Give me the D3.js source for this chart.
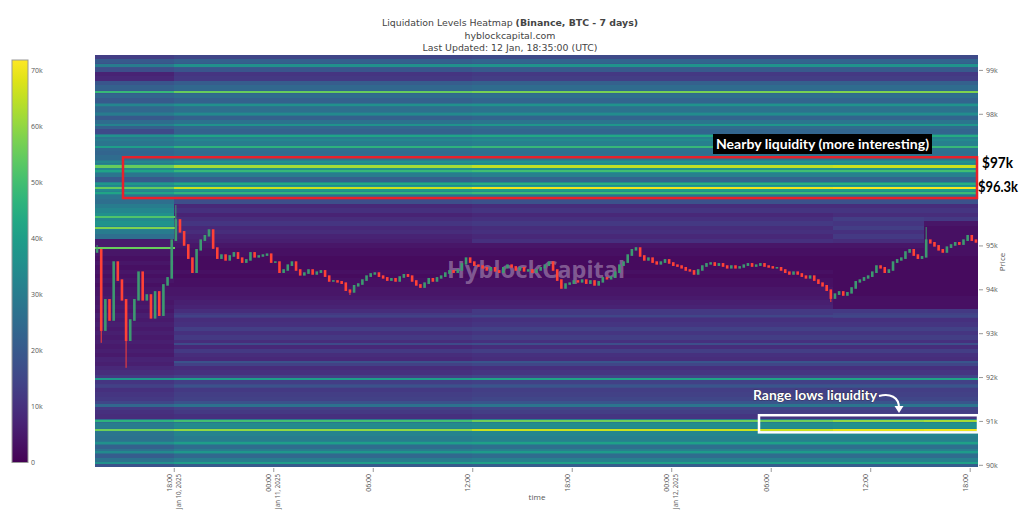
<!DOCTYPE html>
<html><head><meta charset="utf-8">
<script src="https://cdn.jsdelivr.net/npm/d3@7"></script>
<style>body{margin:0;background:#fff}svg{display:block}</style>
</head><body><svg id="c" width="1024" height="511"></svg>
<script>
// ---------- DATA ----------
const segStarts = ["2025-01-10T13:15:00Z","2025-01-10T18:00:00Z","2025-01-11T12:00:00Z","2025-01-12T09:45:00Z","2025-01-12T15:15:00Z"];
const segEnd = "2025-01-12T18:30:00Z";
// price bins ($100 each), listed top -> bottom
const priceBins = d3.range(99300, 89999, -100);
// liquidity per bin (thousands) in each time segment
const liqS0 = [13,20,18,17,7,8,19,22,21,23, 20,26,24,27,20,25,22,16,28,28, 28,24,23,25,29,34,34,28,20,32, 34,32,28,26,30,33,36,34,37,32, 30,26,5,5,4,4,3,4,3,4, 3,4,3,4,4,5,4,5,4,6, 5,6,5,6,5,6,5,6,5,7, 6,8,9,12,11,13,10,11,12,15, 12,10,9,26,30,29,28,27,29,22, 27,21,27,18];
const liqS1 = [15,22,20,19,11,12,21,24,23,25, 22,28,26,29,22,27,24,22,30,30, 30,26,25,27,31,36,36,30,22,34, 38,34,26,17,8,10,7,9,11,8, 9,7,6,4,3,3,2,2,2,3, 2,3,3,4,4,5,6,7,9,12, 9,10,13,10,12,9,8,12,9,8, 14,9,10,14,13,16,12,13,14,18, 14,12,10,28,34,32,32,30,32,25, 30,24,30,20];
const liqS2 = [16,23,21,20,12,13,22,25,24,26, 23,29,27,30,23,28,25,23,31,31, 31,27,26,28,32,37,37,31,23,35, 39,35,27,18,9,11,8,10,12,9, 10,8,10,4,3,3,2,2,2,3, 2,3,3,4,4,5,6,7,12,12, 10,11,14,11,13,10,9,13,10,9, 15,10,11,15,14,17,13,14,15,19, 15,13,11,30,35,33,33,31,33,26, 31,25,31,21];
const liqS3 = [16,23,21,20,12,13,22,25,24,26, 23,29,27,30,23,28,25,23,31,31, 31,27,26,28,32,37,37,31,23,35, 39,35,27,18,9,11,9,13,11,13, 10,12,9,4,3,3,2,2,2,2, 2,2,2,2,2,3,3,3,12,14, 10,11,14,11,13,10,9,13,10,9, 15,10,11,15,14,17,13,14,15,19, 15,13,11,31,36,34,33,31,33,26, 31,25,31,21];
const liqS4 = [16,23,21,20,12,13,22,25,24,26, 23,29,27,30,23,28,25,23,31,31, 31,27,26,28,32,37,37,31,23,35, 39,35,27,18,9,11,9,12,4,3, 3,3,3,3,3,3,2,2,2,2, 2,2,2,2,2,3,3,3,12,14, 10,11,14,11,13,10,9,13,10,9, 15,10,11,15,14,17,13,14,15,19, 15,13,11,31,36,34,33,31,33,26, 31,25,31,21];
// thin liquidity lines ($50 tall)
const linePrices = [99100,98500,98200,98000,97750,97500,97400,97250,96900,96800,96700,96400,96300,96200,95650,95400,94950,92350,91950,91800,91350,91000,90800,90500,90300,90050,92750,93400];
const lineS0 = [30,48,33,30,32,36,30,40,33,55,42,38,55,42,52,58,55,null,38,14,24,46,56,36,34,36,null,null];
const lineS1 = [36,55,36,34,37,42,33,46,36,62,48,43,66,47,null,null,null,18,40,18,27,50,60,40,38,40,16,14];
const lineS2 = [37,57,37,35,38,43,34,48,37,65,50,45,70,49,null,null,null,19,42,19,28,56,66,41,39,41,17,15];
const lineS3 = [37,58,37,35,38,44,34,48,37,66,50,45,71,49,null,null,null,19,42,19,28,60,69,41,39,41,17,15];
const lineS4 = [37,58,37,35,38,44,34,48,37,66,50,45,71,49,null,null,null,19,42,19,28,62,70,41,39,41,17,15];
// 15-minute candles
const candleStart = "2025-01-10T13:15:00Z";
const firstOpen = 94850;
const closes = [
94900,93070,93760,93300,94620,94210,93760,92840,93300,93760,
94390,93760,93870,93350,93940,93410,94100,94260,95120,95580,
95310,95010,94710,94390,94900,95120,95220,95350,94940,94710,
94780,94670,94760,94830,94710,94620,94670,94830,94740,94760,
94780,94800,94620,94620,94390,94440,94550,94620,94440,94330,
94370,94440,94350,94390,94420,94300,94190,94190,94170,94140,
93980,93940,94080,94120,94210,94300,94350,94370,94300,94260,
94210,94240,94190,94280,94330,94300,94190,94100,94050,94140,
94240,94190,94260,94300,94370,94420,94390,94440,94580,94710,
94620,94550,94530,94490,94440,94490,94420,94390,94490,94550,
94510,94440,94490,94420,94440,94390,94440,94490,94550,94620,
94440,94210,94030,94120,94140,94190,94170,94210,94140,94190,
94100,94170,94260,94240,94280,94390,94550,94620,94780,94900,
94940,94760,94670,94710,94620,94580,94620,94670,94600,94550,
94530,94490,94440,94420,94350,94440,94530,94580,94600,94550,
94580,94530,94490,94530,94490,94510,94550,94580,94530,94550,
94580,94530,94510,94490,94490,94440,94390,94350,94390,94350,
94300,94260,94300,94210,94140,94080,93980,93800,93890,93940,
93870,93920,94030,94170,94210,94260,94300,94390,94530,94490,
94390,94440,94620,94670,94710,94850,94900,94780,94710,94740,
95120,95060,94990,94900,94850,94960,95010,95060,95030,95120,
95220,95120,95080];
const wickIdx = [0,1,7,19,61,130,177,200];
const wickPrice = [95010,92780,92210,95920,93870,94960,93710,95420];
// axes
const priceTicks = [90000,91000,92000,93000,94000,95000,98000,99000];
const timeTicks = ["2025-01-10T18:00:00Z","2025-01-11T00:00:00Z","2025-01-11T06:00:00Z","2025-01-11T12:00:00Z","2025-01-11T18:00:00Z","2025-01-12T00:00:00Z","2025-01-12T06:00:00Z","2025-01-12T12:00:00Z","2025-01-12T18:00:00Z"];
const timeLabels = ["18:00","00:00","06:00","12:00","18:00","00:00","06:00","12:00","18:00"];
const dateLabels = ["Jan 10, 2025","Jan 11, 2025","","","","Jan 12, 2025","","",""];
const cbTicks = [0,10,20,30,40,50,60,70];
const zMax = 71.8;

// ---------- CHART ----------
const svg = d3.select("#c");
const FONT = "'Open Sans', sans-serif";
const L = 95, R = 978, T = 55, B = 467;
const x = d3.scaleUtc().domain([new Date(segStarts[0]), new Date(segEnd)]).range([L, R]);
const y = d3.scaleLinear().domain([89950, 99340]).range([B, T]);
const color = d3.scaleSequential(d3.interpolateViridis).domain([0, zMax]);

const defs = svg.append("defs");
defs.append("clipPath").attr("id","plot").append("rect")
  .attr("x", L).attr("y", T).attr("width", R - L).attr("height", B - T);
const plot = svg.append("g").attr("clip-path","url(#plot)");

const bounds = segStarts.map(s => new Date(s)).concat([new Date(segEnd)]);
const segVals = [liqS0, liqS1, liqS2, liqS3, liqS4];
const segLines = [lineS0, lineS1, lineS2, lineS3, lineS4];
segVals.forEach((vals, si) => {
  const x0 = Math.round(x(bounds[si])), x1 = Math.round(x(bounds[si + 1]));
  plot.append("g").attr("shape-rendering","crispEdges").selectAll("rect").data(priceBins).join("rect")
    .attr("x", x0).attr("width", x1 - x0 + 1)
    .attr("y", p => y(p + 50)).attr("height", p => y(p - 50) - y(p + 50) + 0.6)
    .attr("fill", (p, i) => color(vals[i]));
});
segLines.forEach((vals, si) => {
  const x0 = Math.round(x(bounds[si])), x1 = Math.round(x(bounds[si + 1]));
  const d = linePrices.map((p, i) => ({p, v: vals[i]})).filter(o => o.v != null);
  plot.append("g").attr("shape-rendering","crispEdges").selectAll("rect").data(d).join("rect")
    .attr("x", x0).attr("width", x1 - x0 + 1)
    .attr("y", o => y(o.p + 25)).attr("height", o => y(o.p - 25) - y(o.p + 25))
    .attr("fill", o => color(o.v));
});

// watermark
plot.append("text").attr("x", 536).attr("y", 278).attr("text-anchor","middle")
  .attr("font-family","'Noto Sans', sans-serif").attr("font-weight",700).attr("font-size",24)
  .attr("textLength",178).attr("lengthAdjust","spacingAndGlyphs")
  .attr("fill","#ffffff").attr("fill-opacity",0.33).text("HyblockCapital");

// candles
const t0 = new Date(candleStart).getTime();
const step = 15 * 60 * 1000;
const candles = closes.map((c, i) => {
  const o = i ? closes[i - 1] : firstOpen;
  const wi = wickIdx.indexOf(i);
  return {t: new Date(t0 + i * step + step / 2), o, c,
          hi: wi >= 0 && wickPrice[wi] > Math.max(o, c) ? wickPrice[wi] : Math.max(o, c),
          lo: wi >= 0 && wickPrice[wi] < Math.min(o, c) ? wickPrice[wi] : Math.min(o, c)};
});
const cg = plot.append("g");
cg.selectAll("line").data(candles).join("line")
  .attr("x1", d => x(d.t)).attr("x2", d => x(d.t))
  .attr("y1", d => y(d.hi)).attr("y2", d => y(d.lo))
  .attr("stroke", d => d.c >= d.o ? "#3D9970" : "#FF4136").attr("stroke-width", 1);
cg.selectAll("rect").data(candles).join("rect")
  .attr("x", d => x(d.t) - 1.3).attr("width", 2.6)
  .attr("y", d => y(Math.max(d.o, d.c)) - 0.8)
  .attr("height", d => Math.abs(y(d.o) - y(d.c)) + 1.6)
  .attr("fill", d => d.c >= d.o ? "#3D9970" : "#FF4136");

// right axis
const ya = svg.append("g").attr("transform", `translate(${R + 1},0)`)
  .call(d3.axisRight(y).tickValues(priceTicks).tickSize(4).tickPadding(3).tickFormat(d => d / 1000 + "k"));
ya.select(".domain").remove();
ya.selectAll("line").attr("stroke","#999");
ya.selectAll("text").attr("font-family", FONT).attr("font-size", 7).attr("fill","#555");
svg.append("text").attr("transform","translate(1005,262) rotate(-90)").attr("text-anchor","middle")
  .attr("font-family", FONT).attr("font-size", 8).attr("fill","#555").text("Price");

// bottom axis
const xa = svg.append("g").attr("transform", `translate(0,${B + 1})`)
  .call(d3.axisBottom(x).tickValues(timeTicks.map(d => new Date(d))).tickSize(4).tickFormat(""));
xa.select(".domain").remove();
xa.selectAll("line").attr("stroke","#999");
const tl = svg.append("g").selectAll("g").data(timeTicks).join("g")
  .attr("transform", d => `translate(${x(new Date(d))},474) rotate(-90)`);
tl.append("text").attr("x",0).attr("y",-1.8).attr("text-anchor","end")
  .attr("font-family", FONT).attr("font-size", 7).attr("fill","#555").text((d, i) => timeLabels[i]);
tl.append("text").attr("x",0).attr("y",6.8).attr("text-anchor","end")
  .attr("font-family", FONT).attr("font-size", 6.2).attr("fill","#555").text((d, i) => dateLabels[i]);
svg.append("text").attr("x", 537).attr("y", 500).attr("text-anchor","middle")
  .attr("font-family", FONT).attr("font-size", 8).attr("fill","#555").text("time");

// colorbar
const cbTop = 60, cbBot = 462.5;
const cy = d3.scaleLinear().domain([0, zMax]).range([cbBot, cbTop]);
const grad = defs.append("linearGradient").attr("id","vir")
  .attr("x1",0).attr("y1",1).attr("x2",0).attr("y2",0);
grad.selectAll("stop").data(d3.range(0, 1.0001, 0.05)).join("stop")
  .attr("offset", d => d).attr("stop-color", d => d3.interpolateViridis(d));
svg.append("rect").attr("x",12).attr("y",cbTop).attr("width",16).attr("height",cbBot - cbTop)
  .attr("fill","url(#vir)").attr("stroke","#999").attr("stroke-width",1);
svg.append("g").selectAll("text").data(cbTicks).join("text")
  .attr("x",31).attr("y", d => cy(d) + 2.5)
  .attr("font-family", FONT).attr("font-size", 7).attr("fill","#555")
  .text(d => d === 0 ? "0" : d + "k");

// title
const title = svg.append("text").attr("text-anchor","middle").attr("font-family","'DejaVu Sans', sans-serif")
  .attr("font-size", 9.4).attr("fill","#444");
title.append("tspan").attr("x",510).attr("y",26).text("Liquidation Levels Heatmap ")
  .append("tspan").attr("font-weight","bold").text("(Binance, BTC - 7 days)");
title.append("tspan").attr("x",510).attr("y",39).text("hyblockcapital.com");
title.append("tspan").attr("x",510).attr("y",51).text("Last Updated: 12 Jan, 18:35:00 (UTC)");

// annotations
svg.append("rect").attr("x", 123).attr("y", y(97010)).attr("width", R - 1 - 123).attr("height", y(96080) - y(97010))
  .attr("fill","none").attr("stroke","#e8212b").attr("stroke-width",2.5);
svg.append("rect").attr("x",713).attr("y",134).attr("width",219).attr("height",20).attr("fill","#000");
svg.append("text").attr("x",716).attr("y",149).attr("font-family","Lato, sans-serif").attr("font-weight",700)
  .attr("font-size",13.5).attr("fill","#fff").attr("textLength",213).attr("lengthAdjust","spacingAndGlyphs")
  .text("Nearby liquidity (more interesting)");
svg.append("text").attr("x",982).attr("y",168).attr("font-family","Lato, sans-serif").attr("font-weight",700)
  .attr("font-size",15).attr("fill","#000").attr("textLength",31).attr("lengthAdjust","spacingAndGlyphs").text("$97k");
svg.append("text").attr("x",978).attr("y",192).attr("font-family","Lato, sans-serif").attr("font-weight",700)
  .attr("font-size",14.5).attr("fill","#000").attr("textLength",40).attr("lengthAdjust","spacingAndGlyphs").text("$96.3k");
svg.append("rect").attr("x",759).attr("y",y(91130)).attr("width",R - 759).attr("height",y(90740) - y(91130))
  .attr("fill","none").attr("stroke","#fff").attr("stroke-width",2.5);
svg.append("text").attr("x",753).attr("y",400).attr("font-family","Lato, sans-serif").attr("font-weight",700)
  .attr("font-size",13.5).attr("fill","#fff").attr("stroke","#222").attr("stroke-width",0.6).attr("paint-order","stroke")
  .attr("textLength",124).attr("lengthAdjust","spacingAndGlyphs").text("Range lows liquidity");
svg.append("path").attr("d","M879,396 C890,393 899,397 899,408").attr("fill","none")
  .attr("stroke","#fff").attr("stroke-width",2);
svg.append("path").attr("d","M894.5,406 L903.5,406 L899,413 Z").attr("fill","#fff");
</script></body></html>
